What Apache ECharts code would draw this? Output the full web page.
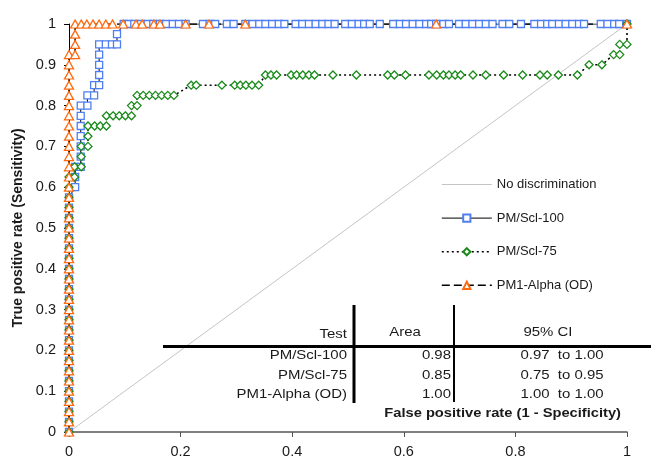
<!DOCTYPE html>
<html>
<head>
<meta charset="utf-8">
<script src="https://cdn.jsdelivr.net/npm/echarts@6/dist/echarts.min.js"></script>
<style>html,body{margin:0;padding:0;background:#fff}#c{width:651px;height:460px}</style>
</head>
<body>
<div id="c"></div>
<script>
// ---- Data (FPR, TPR) ----
var seriesNames = ['No discrimination', 'PM/Scl-100', 'PM/Scl-75', 'PM1-Alpha (OD)'];
var xTicks = [0, 0.2, 0.4, 0.6, 0.8, 1];
var yTicks = [0, 0.1, 0.2, 0.3, 0.4, 0.5, 0.6, 0.7, 0.8, 0.9, 1];

var noDiscrimination = [[0, 0], [1, 1]];

var scl100 = [
  [0,0],[0,0.025],[0,0.05],[0,0.075],[0,0.1],[0,0.125],[0,0.15],[0,0.175],[0,0.2],[0,0.225],
  [0,0.25],[0,0.275],[0,0.3],[0,0.325],[0,0.35],[0,0.375],[0,0.4],[0,0.425],[0,0.45],[0,0.475],
  [0,0.5],[0,0.525],[0,0.55],[0,0.575],
  [0.011,0.6],[0.011,0.625],[0.011,0.65],[0.021,0.65],[0.021,0.675],[0.021,0.7],[0.021,0.725],
  [0.021,0.75],[0.021,0.775],[0.021,0.8],[0.033,0.8],[0.033,0.825],[0.045,0.825],[0.045,0.85],
  [0.054,0.85],[0.054,0.875],[0.054,0.9],[0.054,0.925],[0.054,0.95],[0.066,0.95],[0.077,0.95],
  [0.086,0.95],[0.086,0.975],
  [0.098,1],[0.107,1],[0.117,1],[0.129,1],[0.141,1],[0.151,1],[0.163,1],[0.174,1],[0.186,1],
  [0.197,1],[0.209,1],[0.240,1],[0.252,1],[0.262,1],[0.283,1],[0.295,1],[0.316,1],[0.329,1],
  [0.341,1],[0.352,1],[0.364,1],[0.376,1],[0.386,1],[0.406,1],[0.418,1],[0.430,1],[0.442,1],
  [0.454,1],[0.465,1],[0.476,1],[0.495,1],[0.507,1],[0.519,1],[0.529,1],[0.539,1],[0.557,1],
  [0.581,1],[0.593,1],[0.604,1],[0.616,1],[0.628,1],[0.640,1],[0.649,1],[0.658,1],[0.671,1],
  [0.681,1],[0.699,1],[0.711,1],[0.723,1],[0.735,1],[0.747,1],[0.759,1],[0.777,1],[0.789,1],
  [0.810,1],[0.834,1],[0.846,1],[0.857,1],[0.866,1],[0.878,1],[0.890,1],[0.902,1],[0.914,1],
  [0.923,1],[0.953,1],[0.965,1],[0.977,1],[0.986,1],[1,1]
];

var scl75 = [
  [0,0],[0,0.025],[0,0.05],[0,0.075],[0,0.1],[0,0.125],[0,0.15],[0,0.175],[0,0.2],[0,0.225],
  [0,0.25],[0,0.275],[0,0.3],[0,0.325],[0,0.35],[0,0.375],[0,0.4],[0,0.425],[0,0.45],[0,0.475],
  [0,0.5],[0,0.525],[0,0.55],[0,0.575],[0,0.6],[0,0.625],
  [0.01,0.625],[0.01,0.65],[0.022,0.65],[0.022,0.675],[0.022,0.7],[0.034,0.7],[0.034,0.725],
  [0.034,0.75],[0.046,0.75],[0.056,0.75],[0.067,0.75],[0.067,0.775],[0.079,0.775],[0.09,0.775],
  [0.101,0.775],[0.112,0.775],[0.112,0.8],[0.122,0.8],[0.122,0.825],[0.133,0.825],[0.144,0.825],
  [0.155,0.825],[0.166,0.825],[0.177,0.825],[0.188,0.825],[0.219,0.85],[0.228,0.85],[0.274,0.85],
  [0.297,0.85],[0.307,0.85],[0.317,0.85],[0.328,0.85],[0.34,0.85],[0.352,0.875],[0.362,0.875],
  [0.372,0.875],[0.398,0.875],[0.408,0.875],[0.419,0.875],[0.43,0.875],[0.44,0.875],[0.473,0.875],
  [0.515,0.875],[0.571,0.875],[0.583,0.875],[0.603,0.875],[0.645,0.875],[0.659,0.875],[0.671,0.875],
  [0.681,0.875],[0.692,0.875],[0.702,0.875],[0.724,0.875],[0.747,0.875],[0.779,0.875],[0.813,0.875],
  [0.844,0.875],[0.857,0.875],[0.877,0.875],[0.911,0.875],[0.932,0.9],[0.955,0.9],[0.976,0.925],
  [0.987,0.925],[0.987,0.95],[1,0.95],[1,1]
];

var pm1alpha = [
  [0,0],[0,0.025],[0,0.05],[0,0.075],[0,0.1],[0,0.125],[0,0.15],[0,0.175],[0,0.2],[0,0.225],
  [0,0.25],[0,0.275],[0,0.3],[0,0.325],[0,0.35],[0,0.375],[0,0.4],[0,0.425],[0,0.45],[0,0.475],
  [0,0.5],[0,0.525],[0,0.55],[0,0.575],[0,0.6],[0,0.625],[0,0.65],[0,0.675],[0,0.7],[0,0.725],
  [0,0.75],[0,0.775],[0,0.8],[0,0.825],[0,0.85],[0,0.875],[0,0.9],[0,0.925],
  [0.011,0.925],[0.011,0.95],[0.011,0.975],[0.011,1],[0.022,1],[0.032,1],[0.043,1],[0.054,1],
  [0.066,1],[0.078,1],[0.097,1],[0.12,1],[0.131,1],[0.152,1],[0.163,1],[0.209,1],[0.251,1],
  [0.316,1],[0.658,1],[1,1]
];

// ---- Table content ----
var tableHeader = ['Test', 'Area', '95% CI'];
var tableTests = ['PM/Scl-100', 'PM/Scl-75', 'PM1-Alpha (OD)'];
var tableAreas = ['0.98', '0.85', '1.00'];
var tableCIs = ['0.97  to 1.00', '0.75  to 0.95', '1.00  to 1.00'];

var FONT = '"Liberation Sans", Arial, sans-serif';
var TXT = '#1a1a1a';

var chart = echarts.init(document.getElementById('c'), null, {renderer: 'canvas'});

var graphic = [];
function txt(t, x, y, align, bold, size, sx) {
  graphic.push({type: 'text', silent: true, z: 100, x: x, y: y, scaleX: sx || 1.15,
    style: {text: t, x: 0, y: 0, textAlign: align, textVerticalAlign: 'middle',
      font: (bold ? 'bold ' : '') + (size || 13) + 'px ' + FONT, fill: TXT}});
}
function ln(x1, y1, x2, y2, w) {
  graphic.push({type: 'line', silent: true, z: 100, shape: {x1: x1, y1: y1, x2: x2, y2: y2},
    style: {stroke: '#000', lineWidth: w}});
}
ln(163, 346.5, 651, 346.5, 3);
ln(354, 305, 354, 403, 3);
ln(454, 305, 454, 402, 2);
txt(tableHeader[0], 347, 334, 'right');
txt(tableHeader[1], 405, 332, 'center');
txt(tableHeader[2], 548, 332, 'center');
var rowY = [355, 375, 394];
for (var i = 0; i < tableTests.length; i++) {
  txt(tableTests[i], 347, rowY[i], 'right');
  txt(tableAreas[i], 451, rowY[i], 'right');
  txt(tableCIs[i], 562, rowY[i], 'center');
}
txt('False positive rate (1 - Specificity)', 621, 413, 'right', true, 13, 1.13);

var lineStyles = [
  {color: '#c4c4c4', width: 1, type: 'solid'},
  {color: '#000', width: 1, type: 'solid'},
  {color: '#000', width: 1.6, type: [2, 3]},
  {color: '#000', width: 1.6, type: [8, 4]}
];
var markerStyles = [
  null,
  {symbol: 'rect', size: 7, color: '#4f7ff0'},
  {symbol: 'diamond', size: 8, color: '#1a8a1a'},
  {symbol: 'triangle', size: [9, 8], color: '#ff6a10'}
];
var datasets = [noDiscrimination, scl100, scl75, pm1alpha];

var series = [];
// lines first (underneath every marker)
for (var k = 0; k < datasets.length; k++) {
  series.push({name: k === 0 ? seriesNames[0] : '_line' + k, type: 'line', data: datasets[k],
    symbol: 'none', silent: true, lineStyle: lineStyles[k],
    itemStyle: {color: lineStyles[k].color, opacity: k === 0 ? 0 : 1}, z: 1 + k * 0.1});
}
// markers on top
for (var m = 1; m < datasets.length; m++) {
  var ms = markerStyles[m];
  series.push({name: seriesNames[m], type: 'line', data: datasets[m], symbol: ms.symbol,
    symbolSize: ms.size, lineStyle: {opacity: 0, width: 0},
    itemStyle: {color: '#fff', borderColor: ms.color, borderWidth: 1.3}, z: 5 + m});
}

var legendData = seriesNames.map(function (n, k) {
  var item = {name: n, lineStyle: {color: lineStyles[k].color, width: lineStyles[k].width,
    type: lineStyles[k].type, opacity: 1}};
  if (k === 0) item.itemStyle = {opacity: 0};
  return item;
});

var option = {
  backgroundColor: '#fff',
  animation: false,
  textStyle: {fontFamily: FONT},
  grid: {left: 69, right: 24, top: 24, bottom: 28, outerBoundsMode: 'none', containLabel: false},
  legend: {
    orient: 'vertical', left: 441, top: 178, padding: 0,
    itemWidth: 50, itemHeight: 9, itemGap: 20.6,
    textStyle: {fontSize: 13, color: TXT, fontFamily: FONT},
    data: legendData
  },
  xAxis: {
    type: 'value', min: 0, max: 1, interval: 0.2,
    axisLine: {onZero: false, lineStyle: {color: '#555', width: 1.5}},
    axisTick: {show: true, length: 5, lineStyle: {color: '#555'}},
    axisLabel: {fontSize: 14.5, color: TXT, margin: 12, fontFamily: FONT},
    splitLine: {show: false}
  },
  yAxis: {
    type: 'value', min: 0, max: 1, interval: 0.1,
    name: 'True positive rate (Sensitivity)', nameLocation: 'middle', nameGap: 44,
    nameTextStyle: {fontWeight: 'bold', fontSize: 14, color: TXT, fontFamily: FONT},
    axisLine: {show: true, lineStyle: {color: '#000', width: 1}},
    axisTick: {show: true, length: 5, lineStyle: {color: '#000'}},
    axisLabel: {fontSize: 14.5, color: TXT, margin: 13, fontFamily: FONT},
    splitLine: {show: false}
  },
  series: series,
  graphic: graphic
};
chart.setOption(option);
</script>
</body>
</html>
